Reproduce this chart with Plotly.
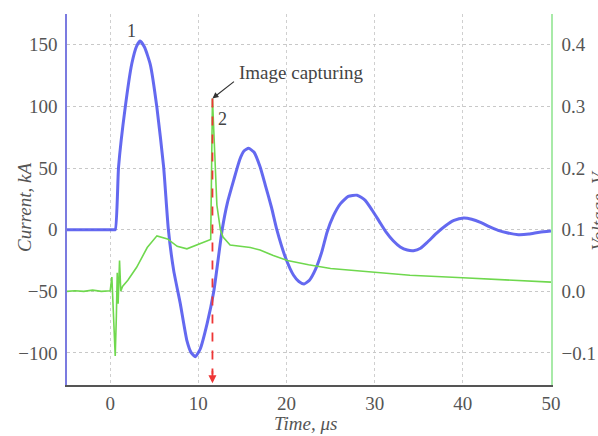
import plotly.graph_objects as go

# Current (kA) vs time (us)
cur_t = [-4.9, -3.0, -1.0, 0.3, 0.57, 0.95, 1.7, 2.46, 3.0, 3.4, 3.9, 4.55, 5.3, 6.06, 6.6, 7.2, 7.95, 8.7, 9.2, 9.66,
         10.2, 11.0, 11.75, 12.7, 13.3, 14.0, 14.7, 15.2, 15.7, 16.3, 17.0, 17.6, 18.3, 18.9, 19.9,
         20.8, 21.4, 22.0, 22.6, 23.3, 24.0, 24.6, 25.3, 26.1, 27.0, 28.0, 28.9, 29.7, 30.5, 31.3,
         32.1, 32.9, 33.7, 34.4, 35.2, 36.0, 37.0, 38.0, 39.0, 40.1, 41.0, 42.0, 43.0, 44.0, 45.0,
         46.3, 47.5, 48.7, 50.0]
cur_v = [0, 0, 0, 0, 0, 51, 99, 135, 149, 153, 148, 134, 99, 51, 0, -33, -60, -90, -100, -103,
         -97, -76, -50, 0, 22, 40, 57, 64, 66, 63, 51, 36, 18, 0, -23,
         -37, -42, -44, -41, -32, -18, -2, 11, 21, 27, 28, 24, 16, 7, -2,
         -9, -14, -16.5, -17, -15, -10, -3, 3, 7.5, 9.5, 8.5, 6, 2.5, -0.5, -2.5,
         -4, -3.5, -2, -1]

# Voltage (V) vs time (us)
volt_t = [-4.9, -4, -3, -2, -1, 0, 0.19, 0.35, 0.57, 0.7, 0.8, 0.9, 1.06, 1.2, 1.4, 2.0, 3.0, 4.2,
          5.3, 6.5, 7.6, 8.7, 10.2, 11.4, 11.6, 11.8, 12.1, 12.5, 12.8, 13.6, 15.9, 17.0, 18.5,
          20.1, 22.5, 25.0, 30.0, 34.0, 40.0, 45.0, 50.0]
volt_v = [0.0, 0.001, 0.0, 0.002, 0.0, 0.001, 0.023, -0.03, -0.105, -0.04, 0.03, -0.02, 0.05, 0.0,
          0.008, 0.018, 0.039, 0.071, 0.09, 0.085, 0.073, 0.069, 0.077, 0.084, 0.313, 0.23, 0.14,
          0.1, 0.088, 0.075, 0.071, 0.067, 0.058, 0.05, 0.043, 0.037, 0.031, 0.026, 0.022, 0.018,
          0.015]

# Image capturing marker
cap_t = [11.6, 11.6]
cap_v = [0.313, -0.135]

x_ticks = [0, 10, 20, 30, 40, 50]
y_ticks = [-100, -50, 0, 50, 100, 150]
y2_ticks = [-0.1, 0.0, 0.1, 0.2, 0.3, 0.4]

FONT = "Liberation Serif"
fig = go.Figure()
fig.add_trace(go.Scatter(x=cur_t, y=cur_v, mode="lines", line=dict(color="#4f55ee", width=3, shape="spline", smoothing=0.5),
                         opacity=0.88, showlegend=False))
fig.add_trace(go.Scatter(x=volt_t, y=volt_v, mode="lines", yaxis="y2", line=dict(color="#6fd84e", width=1.6),
                         showlegend=False))
fig.add_trace(go.Scatter(x=cap_t, y=cap_v, mode="lines", yaxis="y2", line=dict(color="#ee3535", width=1.8, dash="dash"),
                         showlegend=False))

ann = []
ann.append(dict(x=11.6, y=-0.149, xref="x", yref="y2", ax=0, ay=-14, text="", showarrow=True,
                arrowhead=2, arrowsize=1, arrowwidth=1.6, arrowcolor="#ee3535"))
ann.append(dict(x=11.6, y=0.313, xref="x", yref="y2", ax=23, ay=-18, text="", showarrow=True,
                arrowhead=2, arrowsize=1, arrowwidth=1.2, arrowcolor="#333"))
ann.append(dict(x=21.6, y=0.355, xref="x", yref="y2", text="Image capturing", showarrow=False,
                xanchor="center", yanchor="middle", font=dict(family=FONT, size=19, color="#444")))
ann.append(dict(x=2.46, y=161, xref="x", yref="y", text="1", showarrow=False,
                xanchor="center", yanchor="middle", font=dict(family=FONT, size=18, color="#444")))
ann.append(dict(x=12.7, y=0.28, xref="x", yref="y2", text="2", showarrow=False,
                xanchor="center", yanchor="middle", font=dict(family=FONT, size=18, color="#444")))
ann.append(dict(x=-0.0868, y=0.48, xref="paper", yref="paper", text="<i>Current, kA</i>", showarrow=False,
                xanchor="center", yanchor="middle", textangle=-90, font=dict(family=FONT, size=19, color="#555")))
ann.append(dict(x=1.099, y=0.47, xref="paper", yref="paper", text="<i>Voltage, V</i>", showarrow=False,
                xanchor="center", yanchor="middle", textangle=-90, font=dict(family=FONT, size=19, color="#555")))
ann.append(dict(x=0.492, y=-0.105, xref="paper", yref="paper", text="<i>Time, μs</i>", showarrow=False,
                xanchor="center", yanchor="middle", font=dict(family=FONT, size=19, color="#555")))

fig.update_layout(
    width=598, height=436,
    margin=dict(l=67, r=47, t=14, b=51, autoexpand=False),
    paper_bgcolor="white", plot_bgcolor="white",
    font=dict(family=FONT, size=19, color="#555"),
    annotations=ann,
    xaxis=dict(range=[-4.9, 50], tickvals=x_ticks, showgrid=True, gridcolor="#cfcfcf", griddash="dot",
               showline=True, linecolor="#555", linewidth=1.5, zeroline=False, ticks="", ticklabelstandoff=0),
    yaxis=dict(range=[-126, 175], tickvals=y_ticks, showgrid=True, gridcolor="#c8c8c8", griddash="dot",
               showline=True, linecolor="#7b7be0", linewidth=1.5, zeroline=False, ticks="", ticklabelstandoff=4),
    yaxis2=dict(range=[-0.152, 0.45], tickvals=y2_ticks, tickformat=".1f", overlaying="y", side="right",
                showgrid=False, showline=True, linecolor="#a8eaa8", linewidth=1.5, zeroline=False, ticks="",
                ticklabelstandoff=5),
)

fig.write_html("out.html")
